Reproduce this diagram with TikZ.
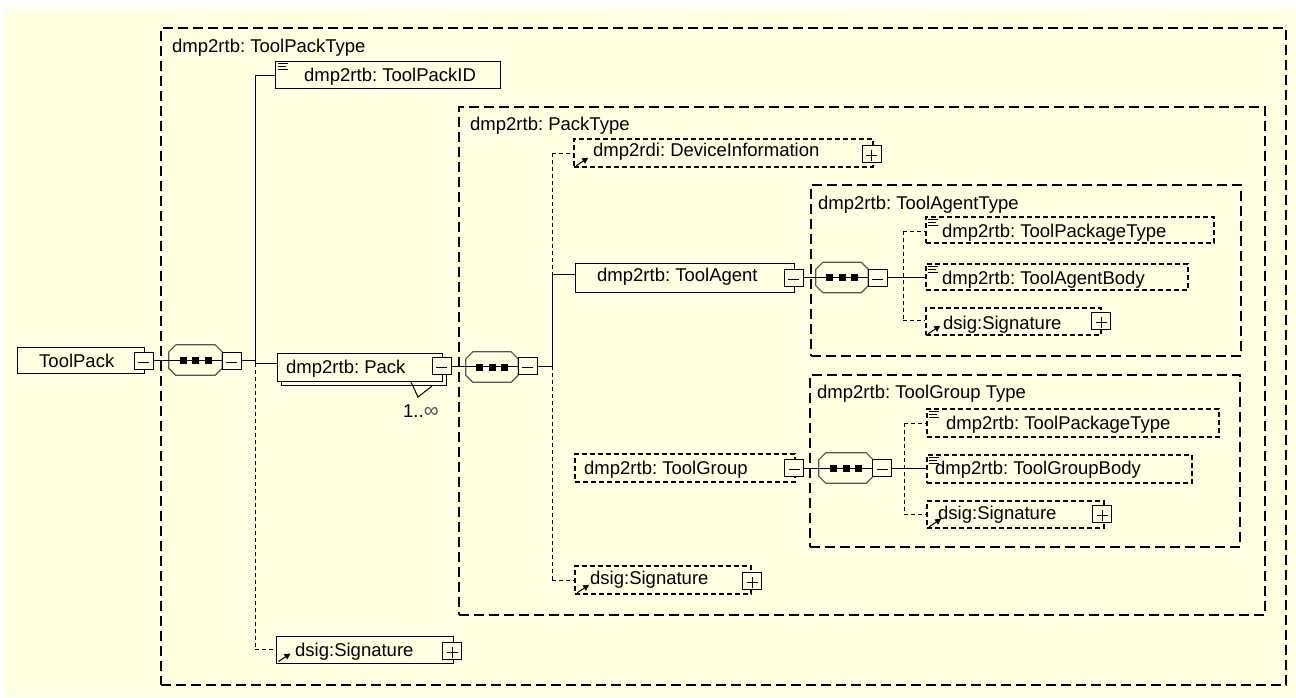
\documentclass[tikz,border=0pt]{standalone}
\usepackage{fontspec}
\setmainfont{Liberation Sans}
\usetikzlibrary{arrows.meta}
\definecolor{cream}{RGB}{255,255,226}
\definecolor{octline}{RGB}{85,85,85}
\newcommand\fs{\fontsize{18.5}{20}\selectfont\frenchspacing}
\newcommand\ElemBox[6]{\node[#6, minimum width={(#4-#2)*1pt}, minimum height={(#5-#3)*1pt}] (#1) at ({(#2+#4)/2},{(#3+#5)/2}) {};}
\newcommand\Octo[4]{%
  \node[octnode, minimum width={#4*1pt}] (#1) at (#2,#3) {};
  \draw[octline, line width=1.2pt, fill=cream] ([xshift=7pt]#1.north west) -- ([xshift=-7pt]#1.north east) -- ([yshift=-7pt]#1.north east) -- ([yshift=7pt]#1.south east) -- ([xshift=-7pt]#1.south east) -- ([xshift=7pt]#1.south west) -- ([yshift=7pt]#1.south west) -- ([yshift=-7pt]#1.north west) -- cycle;
  \foreach \d in {-12.5,0,12.5} \fill ([xshift={(\d-3.5)*1pt},yshift=-3.5pt]#1.center) rectangle ++(7pt,7pt);
}
\newcommand\TxtIcon[1]{%
  \draw[line width=0.9pt] ([xshift=3pt,yshift=-3pt]#1.north west) -- ++(10pt,0);
  \draw[line width=0.9pt] ([xshift=3pt,yshift=-6pt]#1.north west) -- ++(8pt,0);
  \draw[line width=0.9pt] ([xshift=3pt,yshift=-9pt]#1.north west) -- ++(10pt,0);
}
\newcommand\RefIcon[1]{%
  \draw[line width=1pt, -{Triangle[length=6pt,width=6pt]}] ([xshift=3pt,yshift=2pt]#1.south west) -- ++(12pt,8pt);
}
\tikzset{
  lbl/.style={font=\fs, inner sep=0pt, anchor=base west, text=black},
  frame/.style={draw=black, line width=2pt, dash pattern=on 10pt off 5pt, inner sep=0pt},
  sbox/.style={draw=black, line width=1pt, fill=cream, inner sep=0pt},
  dbox/.style={draw=black, line width=1.5pt, dash pattern=on 5pt off 3pt, fill=cream, inner sep=0pt},
  octnode/.style={inner sep=0pt, minimum height=30pt},
  minusbox/.style={draw=black, line width=0.9pt, fill=cream, minimum width=19pt, minimum height=17pt, inner sep=0pt,
    path picture={\draw[line width=1pt] ([xshift=4pt,yshift=-1.5pt]path picture bounding box.west) -- ([xshift=-4pt,yshift=-1.5pt]path picture bounding box.east);}},
  plusbox/.style={draw=black, line width=0.9pt, fill=cream, minimum width=19pt, minimum height=17pt, inner sep=0pt,
    path picture={\draw[line width=1pt] ([xshift=4pt,yshift=-1.5pt]path picture bounding box.west) -- ([xshift=-4pt,yshift=-1.5pt]path picture bounding box.east);
      \draw[line width=1pt] ([yshift=4pt]path picture bounding box.center) -- ([yshift=-7pt]path picture bounding box.center);}},
  conn/.style={draw=black, line width=1pt},
  dconn/.style={draw=black, line width=1pt, dash pattern=on 4pt off 3pt},
}
\begin{document}
\begin{tikzpicture}[x=1pt,y=-1pt]
\useasboundingbox (0,0) rectangle (1296,697);
\fill[cream] (5,9) rectangle (1296,697);

% frames
\ElemBox{fTPT}{161}{28}{1286}{685}{frame}
\ElemBox{fPT}{459}{107}{1265}{615}{frame}
\ElemBox{fTAT}{811}{185}{1241}{356}{frame}
\ElemBox{fTGT}{810}{375}{1240}{547}{frame}
\node[lbl] (lTPT) at (172,52) {dmp2rtb: ToolPackType};
\node[lbl] (lPT) at (470,130) {dmp2rtb: PackType};
\node[lbl] (lTAT) at (818,209) {dmp2rtb: ToolAgentType};
\node[lbl] (lTGT) at (817,398) {dmp2rtb: ToolGroup Type};

% element boxes
\ElemBox{tp}{17}{347}{144}{373}{sbox}
\ElemBox{tpid}{275}{61}{500}{88}{sbox}
\ElemBox{packsh}{281}{357}{446}{385}{sbox}
\ElemBox{pack}{277}{353}{442}{381}{sbox}
\ElemBox{dso}{276}{636}{453}{663}{sbox}
\ElemBox{dev}{574}{139}{873}{167}{dbox}
\ElemBox{ta}{575}{263}{794}{292}{sbox}
\ElemBox{tpta}{926}{217}{1214}{243}{dbox}
\ElemBox{tab}{926}{264}{1188}{290}{dbox}
\ElemBox{dsa}{926}{308}{1101}{335}{dbox}
\ElemBox{tg}{575}{454}{795}{482}{dbox}
\ElemBox{tptb}{927}{409}{1219}{437}{dbox}
\ElemBox{tgb}{927}{455}{1192}{483}{dbox}
\ElemBox{dsb}{927}{501}{1104}{528}{dbox}
\ElemBox{dsp}{575}{566}{751}{594}{dbox}

% multiplicity wedge
\draw[line width=1pt] (411,382) -- (418,397) -- (432,386);
\node[lbl] (mult) at (403,417) {1..\textcolor{octline}{\fontsize{21}{21}\selectfont ∞}};

% sequence compositors
\Octo{o1}{195.5}{360}{53}
\Octo{o2}{492}{367}{52}
\Octo{o3}{842}{277.5}{52}
\Octo{o4}{846}{468}{54}

% minus / plus boxes
\node[minusbox] (m1) at (143.5,360.5) {};
\node[minusbox] (m2) at (231.5,360.5) {};
\node[minusbox] (pm) at (441.5,366) {};
\node[minusbox] (m3) at (527.5,366) {};
\node[minusbox] (tam) at (793.5,277.5) {};
\node[minusbox] (m4) at (877.5,277.5) {};
\node[minusbox] (tgm) at (794,468) {};
\node[minusbox] (m5) at (882,468) {};
\node[plusbox] (devp) at (871.5,153.5) {};
\node[plusbox] (dsap) at (1101,321) {};
\node[plusbox] (dsbp) at (1102,514) {};
\node[plusbox] (dspp) at (752,581) {};
\node[plusbox] (dsop) at (452,651) {};

% texts
\node[lbl] (ttp) at (39,367) {ToolPack};
\node[lbl] (ttpid) at (304,81) {dmp2rtb: ToolPackID};
\node[lbl] (tpack) at (286,373) {dmp2rtb: Pack};
\node[lbl] (tdso) at (295,656) {dsig:Signature};
\node[lbl] (tdev) at (593,156) {dmp2rdi: DeviceInformation};
\node[lbl] (tta) at (597,281) {dmp2rtb: ToolAgent};
\node[lbl] (ttpta) at (942,237) {dmp2rtb: ToolPackageType};
\node[lbl] (ttab) at (942,284) {dmp2rtb: ToolAgentBody};
\node[lbl] (tdsa) at (943,329) {dsig:Signature};
\node[lbl] (ttg) at (584,474) {dmp2rtb: ToolGroup};
\node[lbl] (ttptb) at (946,429) {dmp2rtb: ToolPackageType};
\node[lbl] (ttgb) at (935,474) {dmp2rtb: ToolGroupBody};
\node[lbl] (tdsb) at (938,519) {dsig:Signature};
\node[lbl] (tdsp) at (590,584) {dsig:Signature};

% icons
\TxtIcon{tpid}
\TxtIcon{tpta}
\TxtIcon{tab}
\TxtIcon{tptb}
\TxtIcon{tgb}
\RefIcon{dev}
\RefIcon{dsa}
\RefIcon{dsb}
\RefIcon{dsp}
\RefIcon{dso}

% connectors: outer
\coordinate (jA) at (255,75);
\coordinate (jC) at (255,363);
\coordinate (jD) at (255,649);
\draw[conn] (m1.east) -- (m2.west);
\draw[conn] (m2.east) -- (m2.east -| jA);
\draw[conn] (jA) -- (jC);
\draw[dconn] (jC) -- (jD);
\draw[conn] (jA) -- (jA -| tpid.west);
\draw[conn] (jC) -- (jC -| pack.west);
\draw[dconn] (jD) -- (jD -| dso.west);

% connectors: PackType
\coordinate (kA) at (552,153);
\coordinate (kB) at (552,274);
\coordinate (kC) at (552,366);
\coordinate (kD) at (552,580);
\draw[conn] (pm.east) -- (m3.west);
\draw[conn] (m3.east) -- (m3.east -| kC);
\draw[dconn] (kA) -- (kB);
\draw[conn] (kB) -- (kC);
\draw[dconn] (kC) -- (kD);
\draw[dconn] (kA) -- (kA -| dev.west);
\draw[conn] (kB) -- (kB -| ta.west);
\draw[dconn] (kD) -- (kD -| dsp.west);

% connectors: ToolAgentType
\coordinate (aA) at (903,231);
\coordinate (aB) at (903,320);
\draw[conn] (tam.east) -- (m4.west);
\draw[conn] (m4.east) -- (m4.east -| tab.west);
\draw[dconn] (aA) -- (aB);
\draw[dconn] (aA) -- (aA -| tpta.west);
\draw[dconn] (aB) -- (aB -| dsa.west);

% connectors: ToolGroupType
\coordinate (gA) at (904,423);
\coordinate (gB) at (904,514);
\draw[conn] (tgm.east) -- (m5.west);
\draw[conn] (m5.east) -- (m5.east -| tgb.west);
\draw[dconn] (gA) -- (gB);
\draw[dconn] (gA) -- (gA -| tptb.west);
\draw[dconn] (gB) -- (gB -| dsb.west);
\end{tikzpicture}
\end{document}
